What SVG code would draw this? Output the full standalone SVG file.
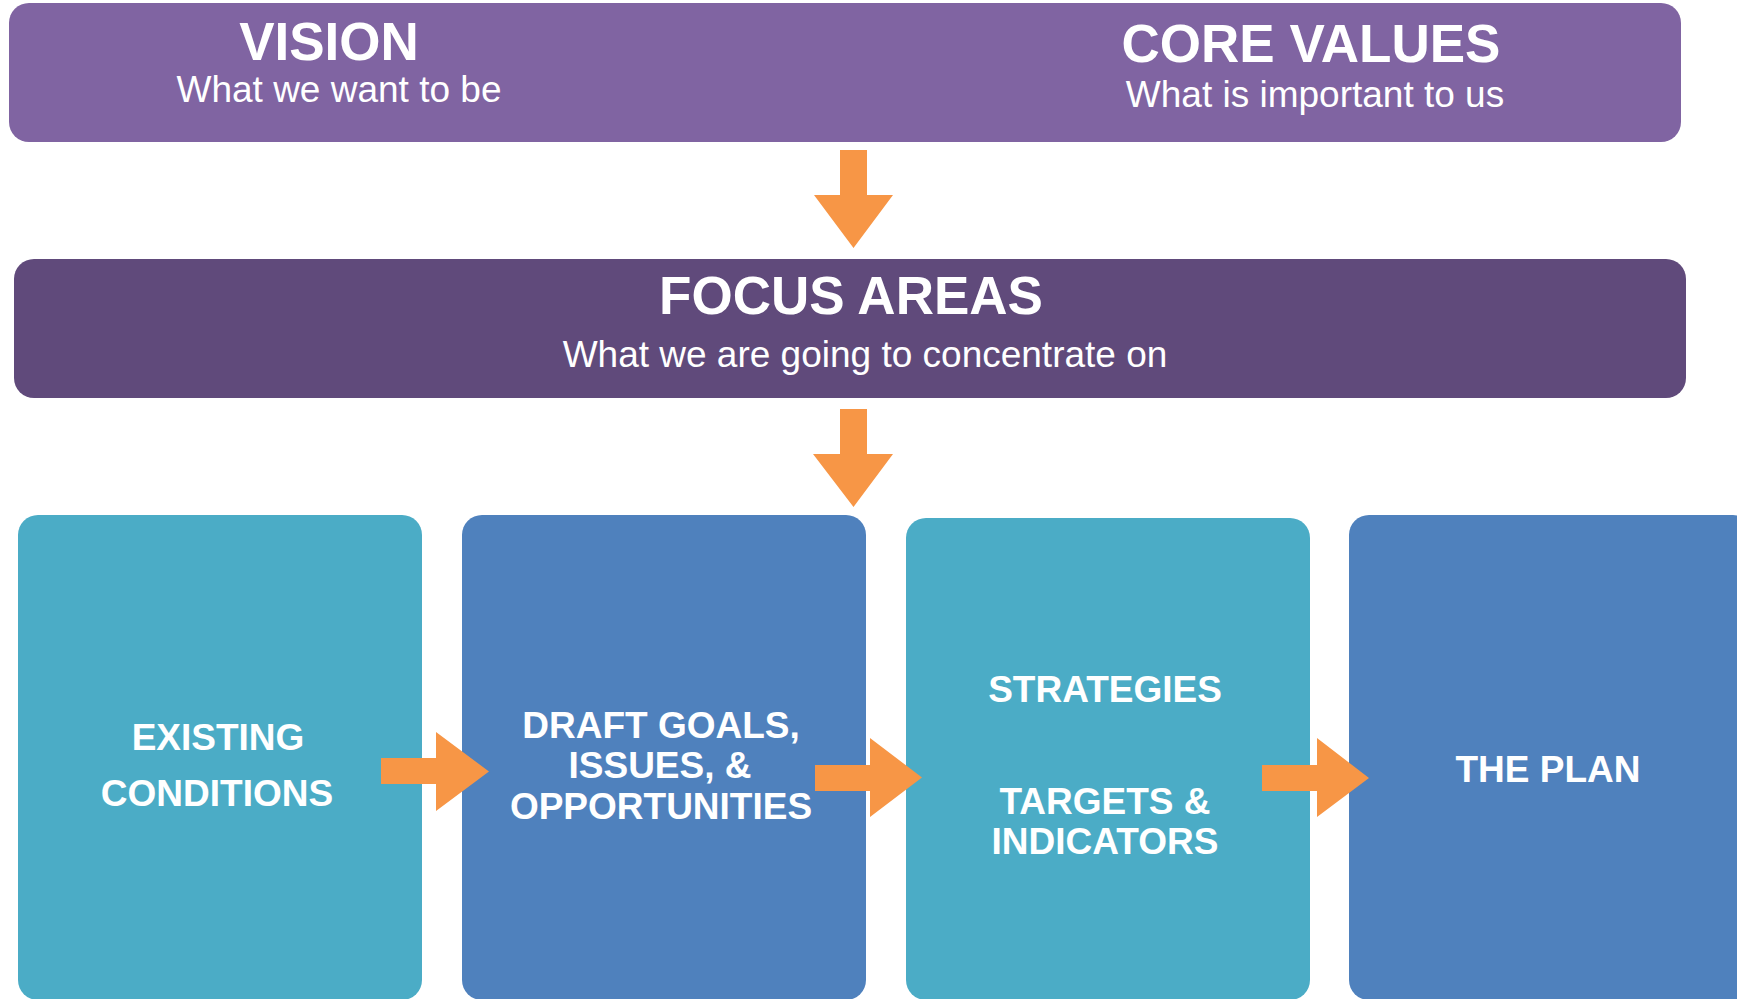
<svg xmlns="http://www.w3.org/2000/svg" width="1737" height="999" viewBox="0 0 1737 999">
<style>
text{font-family:"Liberation Sans",Arial,sans-serif;fill:#fff;text-anchor:middle}
.h{font-size:53px;font-weight:bold}
.s{font-size:37px}
.b{font-size:37px;font-weight:bold}
.arr{fill:#F79646}
</style>
<rect width="1737" height="999" fill="#fff"/>
<g id="top">
<rect x="9" y="3" width="1672" height="139" rx="20" fill="#8064A2"/>
<text class="h" x="329" y="60">VISION</text>
<text class="s" x="339" y="102">What we want to be</text>
<text class="h" x="1311" y="62">CORE VALUES</text>
<text class="s" x="1315" y="107">What is important to us</text>
</g>
<g id="focus">
<rect x="14" y="259" width="1672" height="139" rx="20" fill="#604A7B"/>
<text class="h" x="851" y="314">FOCUS AREAS</text>
<text class="s" x="865" y="367">What we are going to concentrate on</text>
</g>
<g id="existing">
<rect x="18" y="515" width="404" height="485" rx="20" fill="#4BACC6"/>
<text class="b" x="218" y="750">EXISTING</text>
<text class="b" x="217" y="806">CONDITIONS</text>
</g>
<g id="draft">
<rect x="462" y="515" width="404" height="485" rx="20" fill="#4F81BD"/>
<text class="b" x="661" y="738">DRAFT GOALS,</text>
<text class="b" x="660" y="778">ISSUES, &amp;</text>
<text class="b" x="661" y="819">OPPORTUNITIES</text>
</g>
<g id="strategies">
<rect x="906" y="518" width="404" height="482" rx="20" fill="#4BACC6"/>
<text class="b" x="1105" y="702">STRATEGIES</text>
<text class="b" x="1105" y="814">TARGETS &amp;</text>
<text class="b" x="1105" y="854">INDICATORS</text>
</g>
<g id="plan">
<rect x="1349" y="515" width="404" height="485" rx="20" fill="#4F81BD"/>
<text class="b" x="1548" y="782">THE PLAN</text>
</g>
<g id="connectors">
<polygon class="arr" points="840,150 867,150 867,195 893,195 853.5,248 814,195 840,195"/>
<polygon class="arr" points="840,409 867,409 867,454 893,454 853.5,507 813,454 840,454"/>
<polygon class="arr" points="381,758 436,758 436,732 489,771.5 436,811 436,784 381,784"/>
<polygon class="arr" points="815,765 870,765 870,738 922,777.5 870,817 870,791 815,791"/>
<polygon class="arr" points="1262,765 1317,765 1317,738 1369,778 1317,817 1317,791 1262,791"/>
</g>
</svg>
